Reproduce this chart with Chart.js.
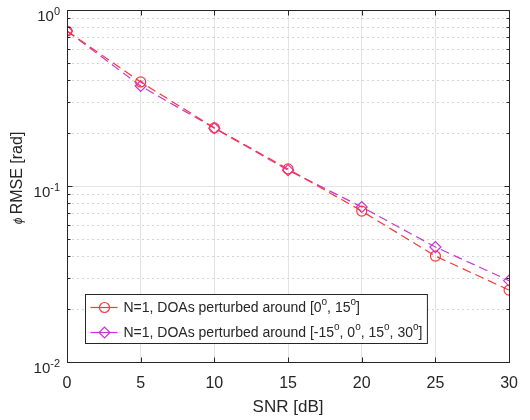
<!DOCTYPE html>
<html lang="en">
<head>
<meta charset="UTF-8">
<title>RMSE vs SNR</title>
<style>
  html, body { margin: 0; padding: 0; background: #fff; }
  #wrap { width: 530px; height: 420px; }
</style>
</head>
<body>
<div id="wrap"><canvas id="rmseChart" width="530" height="420"></canvas></div>
<script src="https://cdn.jsdelivr.net/npm/chart.js"></script>
<script>
// data
const snr = [0, 5, 10, 15, 20, 25, 30];
const rmseTwoDoas = [0.76, 0.39, 0.214, 0.125, 0.072, 0.040, 0.0256];
const rmseFourDoas = [0.76, 0.37, 0.213, 0.123, 0.076, 0.045, 0.029];
const seriesNames = [
    'N=1, DOAs perturbed around [0^o, 15^o]',
    'N=1, DOAs perturbed around [-15^o, 0^o, 15^o, 30^o]'
];
const xTicks = [0, 5, 10, 15, 20, 25, 30];
const yDecades = [-2, -1, 0];
const yTickLabels = ['10^-2', '10^-1', '10^0'];

const FONT = '"Liberation Sans", Arial, Helvetica, sans-serif';
const AXIS = '#262626';
const RED = '#ff3535';
const MAG = '#c936d4';

// text with ^sup parts, drawn left-aligned at baseline y
function richParts(str) {
    return str.split(/\^(-?[0-9a-z]+)/);
}
function richWidth(ctx, str, size) {
    let w = 0;
    richParts(str).forEach((p, i) => {
        ctx.font = (i % 2 ? Math.round(size * 0.72) : size) + 'px ' + FONT;
        w += ctx.measureText(p).width;
    });
    return w;
}
function drawRich(ctx, str, x, y, size) {
    richParts(str).forEach((p, i) => {
        const sup = i % 2 === 1;
        ctx.font = (sup ? Math.round(size * 0.72) : size) + 'px ' + FONT;
        ctx.fillText(p, x, sup ? y - size * 0.42 : y);
        x += ctx.measureText(p).width;
    });
}

const matlabLook = {
    id: 'matlabLook',
    beforeDatasetsDraw(chart) {
        const ctx = chart.ctx, ca = chart.chartArea, y = chart.scales.y;
        ctx.save();
        ctx.lineWidth = 1;
        // minor dotted grid
        ctx.strokeStyle = '#d4d4d4';
        ctx.setLineDash([2, 3]);
        for (let e = -2; e < 0; e++) {
            for (let m = 2; m <= 9; m++) {
                const py = Math.round(y.getPixelForValue(m * Math.pow(10, e))) + 0.5;
                ctx.beginPath(); ctx.moveTo(ca.left, py); ctx.lineTo(ca.right, py); ctx.stroke();
            }
        }
        // decade grid
        ctx.setLineDash([]);
        ctx.strokeStyle = '#e3e3e3';
        yDecades.forEach(e => {
            const py = Math.round(y.getPixelForValue(Math.pow(10, e))) + 0.5;
            ctx.beginPath(); ctx.moveTo(ca.left, py); ctx.lineTo(ca.right, py); ctx.stroke();
        });
        ctx.restore();
    },
    afterDatasetsDraw(chart) {
        const ctx = chart.ctx, ca = chart.chartArea, x = chart.scales.x, y = chart.scales.y;
        ctx.save();
        ctx.strokeStyle = AXIS;
        ctx.lineWidth = 1;
        const L = Math.round(ca.left) + 0.5, R = Math.round(ca.right) + 0.5;
        const T = Math.round(ca.top) + 0.5, B = Math.round(ca.bottom) + 0.5;
        ctx.strokeRect(L, T, R - L, B - T);
        ctx.beginPath();
        xTicks.forEach(v => {
            const px = Math.round(x.getPixelForValue(v)) + 0.5;
            ctx.moveTo(px, B); ctx.lineTo(px, B - 5);
            ctx.moveTo(px, T); ctx.lineTo(px, T + 5);
        });
        for (let e = -2; e <= 0; e++) {
            for (let m = 1; m <= 9; m++) {
                if (e === 0 && m > 1) break;
                const len = m === 1 ? 5 : 3;
                const py = Math.round(y.getPixelForValue(m * Math.pow(10, e))) + 0.5;
                ctx.moveTo(L, py); ctx.lineTo(L + len, py);
                ctx.moveTo(R, py); ctx.lineTo(R - len, py);
            }
        }
        ctx.stroke();

        // y tick labels with exponents
        ctx.fillStyle = AXIS;
        ctx.textBaseline = 'alphabetic';
        yDecades.forEach((e, i) => {
            const py = y.getPixelForValue(Math.pow(10, e));
            const lbl = yTickLabels[i];
            const w = richWidth(ctx, lbl, 15);
            drawRich(ctx, lbl, ca.left - 7 - w, py + 11, 15);
        });

        // y title
        ctx.translate(18, 178);
        ctx.rotate(-Math.PI / 2);
        ctx.font = 'italic 12px ' + FONT;
        const phiW = ctx.measureText('\u03d5 ').width;
        ctx.font = '16px ' + FONT;
        const restW = ctx.measureText('RMSE [rad]').width;
        let tx = -(phiW + restW) / 2;
        ctx.textBaseline = 'middle';
        ctx.font = 'italic 12px ' + FONT;
        ctx.fillText('\u03d5 ', tx, 1);
        ctx.font = '16px ' + FONT;
        ctx.fillText('RMSE [rad]', tx + phiW, 0);
        ctx.restore();
    },
    afterDraw(chart) {
        const ctx = chart.ctx, ca = chart.chartArea;
        ctx.save();
        const size = 14;
        const widths = seriesNames.map(s => richWidth(ctx, s, size));
        const x0 = Math.round(ca.left) + 18.5, y0 = Math.round(ca.bottom) - 67.5;
        const w = Math.max(...widths) + 43, h = 49;
        ctx.fillStyle = '#fff';
        ctx.fillRect(x0, y0, w, h);
        ctx.strokeStyle = AXIS;
        ctx.lineWidth = 1;
        ctx.strokeRect(x0, y0, w, h);
        chart.data.datasets.forEach((ds, i) => {
            const ry = y0 + 13 + i * 25;
            ctx.strokeStyle = ds.borderColor;
            ctx.lineWidth = 1.2;
            ctx.beginPath(); ctx.moveTo(x0 + 5, ry); ctx.lineTo(x0 + 32, ry); ctx.stroke();
            ctx.fillStyle = 'rgba(0,0,0,0)';
            Chart.helpers.drawPoint(ctx, {
                pointStyle: ds.pointStyle, radius: ds.pointRadius,
                borderWidth: ds.pointBorderWidth, rotation: 0
            }, x0 + 19, ry);
            ctx.fillStyle = AXIS;
            ctx.textBaseline = 'middle';
            drawRich(ctx, seriesNames[i], x0 + 38, ry + 1, size);
        });
        ctx.restore();
    }
};

new Chart(document.getElementById('rmseChart'), {
    type: 'line',
    data: {
        labels: snr,
        datasets: [
            {
                data: rmseTwoDoas,
                borderColor: RED,
                borderWidth: 1.2,
                borderDash: [9, 5],
                pointStyle: 'circle',
                pointRadius: 5,
                pointBorderWidth: 1.2,
                pointBackgroundColor: 'rgba(0,0,0,0)',
                pointBorderColor: RED,
                tension: 0
            },
            {
                data: rmseFourDoas,
                borderColor: MAG,
                borderWidth: 1.2,
                borderDash: [9, 5],
                pointStyle: 'rectRot',
                pointRadius: 5.5,
                pointBorderWidth: 1.2,
                pointBackgroundColor: 'rgba(0,0,0,0)',
                pointBorderColor: MAG,
                tension: 0
            }
        ]
    },
    options: {
        responsive: false,
        animation: false,
        layout: { padding: { left: 67, top: 10, right: 11, bottom: 0 } },
        plugins: { legend: { display: false }, tooltip: { enabled: false } },
        scales: {
            x: {
                type: 'linear',
                min: 0, max: 30,
                afterBuildTicks(s) { s.ticks = xTicks.map(v => ({ value: v })); },
                afterFit(s) { s.height = 58; },
                grid: { color: '#e3e3e3', drawTicks: false },
                border: { display: false },
                ticks: { color: AXIS, padding: 12, font: { family: FONT, size: 16 } },
                title: {
                    display: true, text: 'SNR [dB]', color: AXIS,
                    padding: { top: 0, bottom: 2 },
                    font: { family: FONT, size: 17 }
                }
            },
            y: {
                type: 'logarithmic',
                min: 0.01, max: 1,
                afterFit(s) { s.width = 0; },
                grid: { display: false },
                border: { display: false },
                ticks: { display: false }
            }
        }
    },
    plugins: [matlabLook]
});
</script>
</body>
</html>
